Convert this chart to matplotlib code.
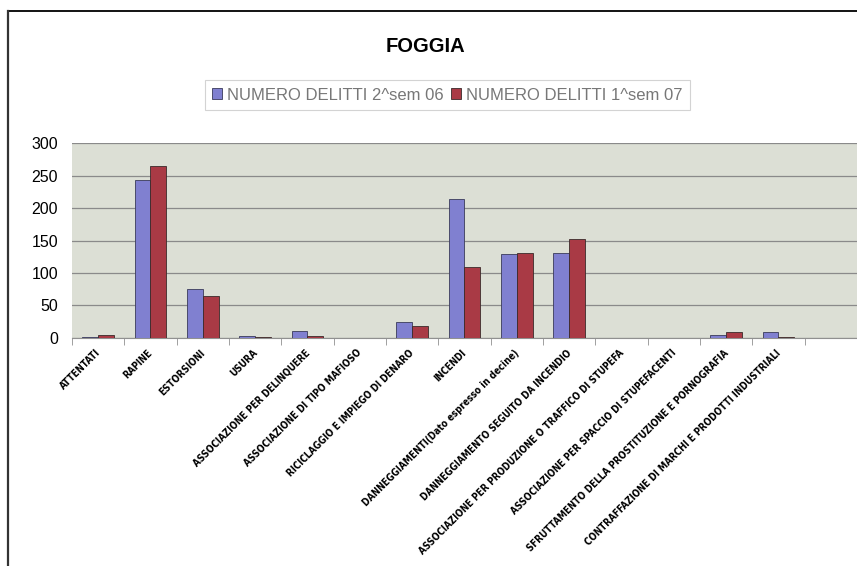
import matplotlib.pyplot as plt
import numpy as np
from matplotlib import font_manager
from matplotlib.lines import Line2D
from matplotlib.transforms import ScaledTranslation

# ----------------------------------------------------
# Data
# ----------------------------------------------------
categories = [
    "ATTENTATI",
    "RAPINE",
    "ESTORSIONI",
    "USURA",
    "ASSOCIAZIONE PER DELINQUERE",
    "ASSOCIAZIONE DI TIPO MAFIOSO",
    "RICICLAGGIO E IMPIEGO DI DENARO",
    "INCENDI",
    "DANNEGGIAMENTI(Dato espresso in decine)",
    "DANNEGGIAMENTO SEGUITO DA INCENDIO",
    "ASSOCIAZIONE PER PRODUZIONE O TRAFFICO DI STUPEFA",
    "ASSOCIAZIONE PER SPACCIO DI STUPEFACENTI",
    "SFRUTTAMENTO DELLA PROSTITUZIONE E PORNOGRAFIA",
    "CONTRAFFAZIONE DI MARCHI E PRODOTTI INDUSTRIALI",
]

sem2_06 = [2, 244, 75, 3, 10, 0, 25, 214, 129, 131, 0, 0, 4, 9]
sem1_07 = [4, 265, 64, 1, 3, 0, 18, 110, 131, 152, 0, 0, 9, 1]

series_names = ["NUMERO DELITTI 2^sem 06", "NUMERO DELITTI 1^sem 07"]
yticks = [0, 50, 100, 150, 200, 250, 300]

BLUE = "#8080d0"
RED = "#a93a45"


# ----------------------------------------------------
# Pick a narrow bold face for the category labels
# ----------------------------------------------------
def narrow_font():
    candidates = [
        (dict(family="Liberation Sans Narrow", weight="bold"), 7.8),
        (dict(family="DejaVu Sans", stretch="condensed", weight="bold"), 7.0),
        (dict(family="Open Sans", stretch="condensed", weight="bold"), 7.0),
    ]
    for kw, size in candidates:
        fp = font_manager.FontProperties(**kw)
        try:
            path = font_manager.findfont(fp, fallback_to_default=False)
        except ValueError:
            continue
        name = path.lower()
        if "narrow" in name or "cond" in name:
            return kw, size
    return dict(family="DejaVu Sans", weight="bold"), 6.3


label_font, label_size = narrow_font()

# ----------------------------------------------------
# Figure
# ----------------------------------------------------
fig = plt.figure(figsize=(8.57, 5.66), dpi=100)
ax = fig.add_axes([0.084, 0.403, 0.916, 0.344])
ax.set_facecolor("#dcdfd5")

x = np.arange(len(categories))
w = 0.3
ax.bar(x - w / 2, sem2_06, w, color=BLUE, edgecolor="#3a3a5a",
       linewidth=0.6, label=series_names[0], zorder=3)
ax.bar(x + w / 2, sem1_07, w, color=RED, edgecolor="#3a2a2a",
       linewidth=0.6, label=series_names[1], zorder=3)

ax.set_xlim(-0.5, len(categories) + 0.5)
ax.set_ylim(0, 300)
ax.set_yticks(yticks)
ax.set_yticklabels([str(v) for v in yticks], fontsize=11.5,
                   family="Liberation Sans")
ax.yaxis.grid(True, color="#8a8a8a", linewidth=0.9, zorder=1)
ax.tick_params(axis="y", length=0, pad=10)

# category separators as ticks below the axis
ax.set_xticks(np.arange(len(categories) + 1) - 0.5, minor=True)
ax.tick_params(axis="x", which="minor", length=5, color="#909090",
               direction="out")
ax.set_xticks(x)
ax.set_xticklabels(categories, rotation=45, ha="right", va="top",
                   rotation_mode="anchor", fontsize=label_size,
                   **label_font)
ax.tick_params(axis="x", which="major", length=0, pad=7)
shift = ScaledTranslation(-3 / 100, 0, fig.dpi_scale_trans)
for lbl in ax.get_xticklabels():
    lbl.set_transform(lbl.get_transform() + shift)

for side in ["left", "right", "top"]:
    ax.spines[side].set_visible(False)
ax.spines["bottom"].set_color("#909090")

# ----------------------------------------------------
# Title and legend
# ----------------------------------------------------
fig.text(0.497, 0.918, "FOGGIA", ha="center", va="center",
         fontsize=14.5, fontweight="bold", family="Liberation Sans")

leg = fig.legend(loc="center", bbox_to_anchor=(0.522, 0.832), ncol=2,
                 frameon=True, fancybox=False,
                 prop={"family": "Liberation Sans", "size": 12},
                 handlelength=0.6, handleheight=0.6, handletextpad=0.3,
                 columnspacing=0.4, borderpad=0.45)
leg.get_frame().set_edgecolor("#c8c8c8")
leg.get_frame().set_linewidth(0.8)
for t in leg.get_texts():
    t.set_color("#777777")

# ----------------------------------------------------
# Outer border (top and left)
# ----------------------------------------------------
fig.add_artist(Line2D([0.0093, 1.0], [0.981, 0.981], color="black",
                      linewidth=1.3, transform=fig.transFigure))
fig.add_artist(Line2D([0.0093, 0.0093], [0.0, 0.981], color="#333333",
                      linewidth=1.6, transform=fig.transFigure))

plt.savefig("out.png", dpi=100)
plt.close()
